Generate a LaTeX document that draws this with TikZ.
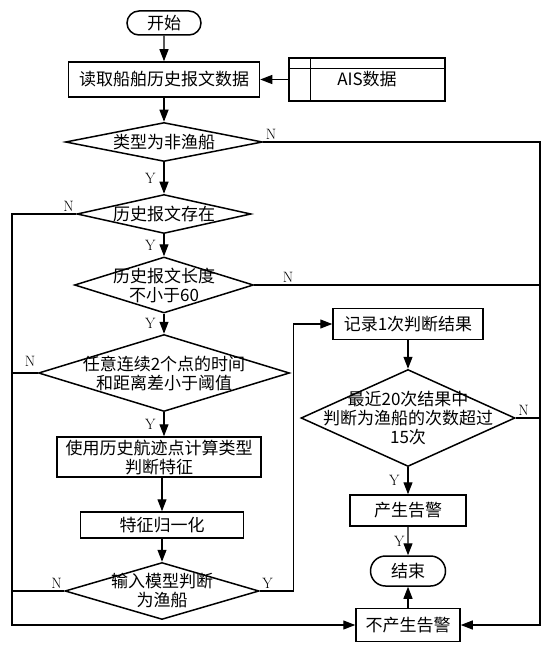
\documentclass[tikz,border=0pt]{standalone}
\usepackage{fontspec}
\newfontfamily\cjkfont{Noto Sans CJK SC}
\usepackage{tikz}
\usetikzlibrary{arrows,arrows.meta,shapes}
\usetikzlibrary{positioning}
\tikzstyle{flow}=[x=1pt, y=-1pt, line width=1.2pt,
                >={Triangle[length=12pt,width=9pt]},
                font=\cjkfont\fontsize{17}{19}\selectfont]
\tikzstyle{proc}=[rectangle, draw, line width=1.5pt, inner sep=0pt, align=center]
\tikzstyle{term}=[rounded rectangle, draw, line width=1.5pt, inner sep=0pt]
\tikzstyle{dec}=[diamond, draw, line width=1.5pt, inner sep=0pt]
\tikzstyle{dtext}=[align=center, inner sep=0pt, draw=none]
\tikzstyle{yn}=[font=\rmfamily\fontsize{15}{15}\selectfont, inner sep=2pt]

\begin{document}
\begin{tikzpicture}[flow]
  \path[use as bounding box] (0,0) rectangle (554,652);
  \node[term, minimum width=74, minimum height=24] (start) at (164,23) {开始};
  \node[proc, minimum width=191, minimum height=35] (read) at (164,79.5) {读取船舶历史报文数据};
  \node[proc, line width=1.2pt, minimum width=156, minimum height=43] (ais) at (367,79.5) {\raisebox{-4pt}{AIS数据}};
  \draw ([xshift=22pt]ais.north west) -- ([xshift=22pt]ais.south west);
  \draw ([yshift=-11pt]ais.north west) -- ([yshift=-11pt]ais.north east);
  \node[dec, minimum width=197, minimum height=39, label={[dtext]center:类型为非渔船}] (d1) at (164,142) {};
  \node[dec, minimum width=174, minimum height=39, label={[dtext]center:历史报文存在}] (d2) at (164,214) {};
  \node[dec, minimum width=179, minimum height=56, label={[dtext]center:历史报文长度\\不小于60}] (d3) at (164,285) {};
  \node[dec, minimum width=251, minimum height=77, label={[dtext]center:任意连续2个点的时间\\和距离差小于阈值}] (d4) at (164,373) {};
  \node[proc, minimum width=204, minimum height=40] (feat) at (159,457) {使用历史航迹点计算类型\\判断特征};
  \node[proc, minimum width=163, minimum height=26] (norm) at (162,525) {特征归一化};
  \node[dec, minimum width=194, minimum height=57, label={[dtext]center:输入模型判断\\为渔船}] (d5) at (162,591) {};
  \node[proc, minimum width=150, minimum height=31] (rec) at (408,324) {记录1次判断结果};
  \node[dec, minimum width=214, minimum height=97, label={[dtext]center:最近20次结果中\\判断为渔船的次数超过\\15次}] (d6) at (408,418) {};
  \node[proc, minimum width=116, minimum height=31] (alarm) at (408,510.5) {产生告警};
  \node[term, minimum width=75, minimum height=30] (end) at (408,571) {结束};
  \node[proc, minimum width=104, minimum height=33] (no) at (408,625) {不产生告警};
  \coordinate (lrail) at (12,625);
  \coordinate (rrail) at (540,625);
  \path[->]
    (start) edge (read)
    (ais) edge (read)
    (read) edge (d1)
    (d1) edge node[yn, left=6pt] {Y} (d2)
    (d2) edge node[yn, left=6pt] {Y} (d3)
    (d3) edge node[yn, left=6pt] {Y} (d4)
    (d4.south) edge node[yn, left=6pt] {Y} (d4.south |- feat.north)
    (feat.south -| norm) edge (norm)
    (norm.south -| d5) edge (d5)
    (rec) edge (d6)
    (d6) edge node[yn, left=6pt] {Y} (alarm)
    (alarm) edge node[yn, left=1pt] {Y} (end)
    (no) edge (end);
  \draw[->] (d2.west) node[yn, above left] {N} -- (d2.west -| lrail) -- (lrail) -- (no.west);
  \draw (d4.west) node[yn, above left, yshift=4pt] {N} -- (d4.west -| lrail);
  \draw (d5.west) node[yn, above left] {N} -- (d5.west -| lrail);
  \draw[->] (d1.east) node[yn, above right] {N} -- (d1.east -| rrail) -- (rrail) -- (no.east);
  \draw (d3.east) node[yn, above right, xshift=26pt] {N} -- (d3.east -| rrail);
  \draw (d6.east) node[yn, above right] {N} -- (d6.east -| rrail);
  \draw[->] (d5.east) node[yn, above right] {Y} -- ++(34,0) |- (rec.west);
\end{tikzpicture}
\end{document}
